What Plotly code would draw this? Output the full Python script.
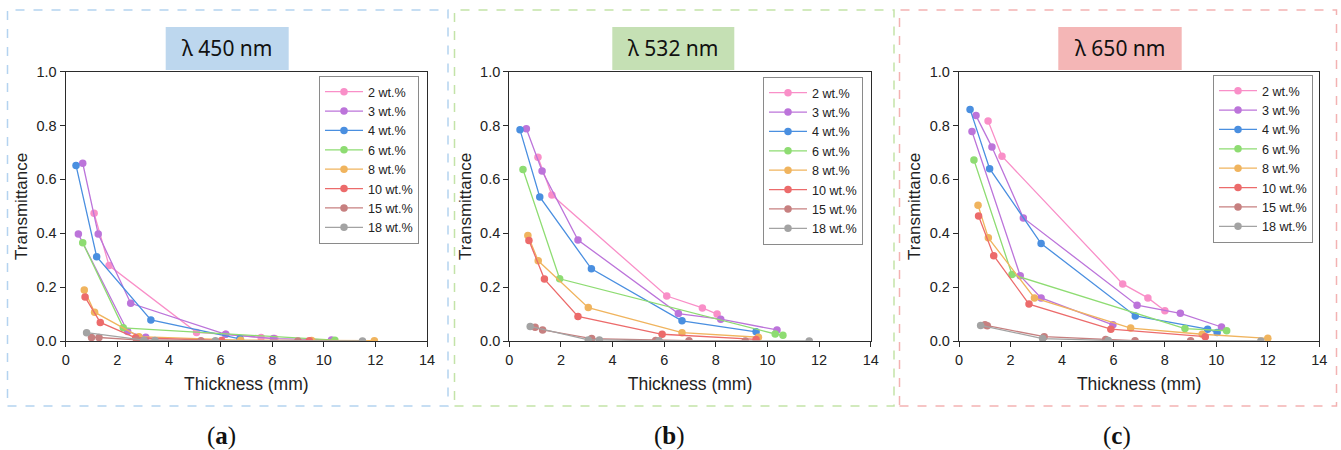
import plotly.graph_objects as go

W, H = 1341, 450

SERIES = ["2 wt.%", "3 wt.%", "4 wt.%", "6 wt.%", "8 wt.%", "10 wt.%", "15 wt.%", "18 wt.%"]
COLORS = ["#F98FC8", "#BC74DA", "#4A8FE0", "#8EDC72", "#F0B45E", "#EC6B6B", "#C78080", "#A3A3A3"]

X_TICKS = [0, 2, 4, 6, 8, 10, 12, 14]
Y_TICKS = [0.0, 0.2, 0.4, 0.6, 0.8, 1.0]

PANEL_TITLES = ["λ 450 nm", "λ 532 nm", "λ 650 nm"]
CAPTIONS = ["a", "b", "c"]

# ---- 450 nm (None separates two measurement chains of one series)
X_450 = [
    [1.1, 1.68, 5.07, 6.2, 7.57, 8.1],
    [0.66, 1.26, 2.52, 6.2, 8.05, 10.3, None, 0.49, 2.4, 3.1],
    [0.4, 1.2, 3.3, 6.75],
    [0.66, 2.23, 10.43],
    [0.72, 1.12, 2.84, 6.78, 9.53, 11.96],
    [0.75, 1.34, 2.71, 6.04, 9.44],
    [1.0, 1.29, 2.75, 5.24, 9.0],
    [0.81, 3.03, 3.46, 5.8, 11.5],
]
Y_450 = [
    [0.474, 0.28, 0.032, 0.025, 0.013, 0.009],
    [0.66, 0.397, 0.14, 0.025, 0.009, 0.004, None, 0.397, 0.035, 0.014],
    [0.652, 0.313, 0.078, 0.008],
    [0.365, 0.049, 0.003],
    [0.189, 0.107, 0.016, 0.003, 0.002, 0.001],
    [0.163, 0.069, 0.012, 0.002, 0.001],
    [0.013, 0.013, 0.004, 0.001, 0.0],
    [0.031, 0.003, 0.002, 0.001, 0.0],
]

# ---- 532 nm
X_532 = [
    [1.11, 1.65, 6.1, 7.48, 8.05],
    [0.66, 1.27, 2.66, 6.55, 8.19, 10.37],
    [0.415, 1.18, 3.18, 6.69, 9.56],
    [0.53, 1.95, 10.3, 10.6],
    [0.72, 1.12, 3.06, 6.69, 9.65],
    [0.76, 1.36, 2.66, 5.92, 9.56],
    [1.0, 1.29, 3.19, 5.67, 6.96, 9.14],
    [0.81, 3.06, 3.49, 5.8, 11.62],
]
Y_532 = [
    [0.682, 0.542, 0.167, 0.123, 0.1],
    [0.788, 0.631, 0.375, 0.102, 0.081, 0.041],
    [0.784, 0.535, 0.268, 0.075, 0.034],
    [0.637, 0.231, 0.026, 0.021],
    [0.392, 0.298, 0.124, 0.031, 0.014],
    [0.373, 0.23, 0.091, 0.025, 0.006],
    [0.051, 0.041, 0.009, 0.002, 0.001, 0.0],
    [0.054, 0.004, 0.004, 0.001, 0.0],
]

# ---- 650 nm
X_650 = [
    [1.13, 1.67, 6.36, 7.34, 8.0],
    [0.66, 1.28, 2.5, 6.92, 8.6, 10.2, None, 0.505, 2.38, 3.19, 5.98],
    [0.43, 1.19, 3.19, 6.85, 9.66, 10.03],
    [0.58, 2.06, 8.78, 10.4],
    [0.74, 1.14, 2.93, 6.67, 9.45, 12.0],
    [0.76, 1.35, 2.72, 5.9, 9.57],
    [1.01, 1.1, 3.31, 5.7, 6.84, 9.0],
    [0.84, 3.25, 5.8, 11.73],
]
Y_650 = [
    [0.817, 0.686, 0.212, 0.16, 0.112],
    [0.837, 0.72, 0.457, 0.133, 0.103, 0.052, None, 0.778, 0.242, 0.16, 0.06],
    [0.86, 0.64, 0.362, 0.093, 0.044, 0.032],
    [0.672, 0.247, 0.046, 0.038],
    [0.504, 0.383, 0.16, 0.048, 0.025, 0.01],
    [0.464, 0.317, 0.137, 0.044, 0.016],
    [0.06, 0.057, 0.016, 0.006, 0.001, 0.001],
    [0.058, 0.009, 0.002, 0.0],
]

PANEL_X = [X_450, X_532, X_650]
PANEL_Y = [Y_450, Y_532, Y_650]

# layout (pixel geometry)
PLOT_LEFT = [65.7, 509.3, 959.0]
PLOT_RIGHT = [427.0, 870.7, 1319.3]
PLOT_TOP, PLOT_BOTTOM = 71.7, 341.0
BORDERS = [(7.5, 448.0), (454.5, 894.0), (899.5, 1336.5)]
BORDER_TOP, BORDER_BOTTOM = 10.0, 406.0
BORDER_COLORS = ["#B4D3F0", "#C3E3A8", "#F3B2B2"]
TITLE_BOX = [(165.7, 288.7), (612.3, 734.3), (1058.3, 1181.7)]
TITLE_FILL = ["#BDD7EE", "#C5E0B4", "#F4B6B6"]
TITLE_TOP, TITLE_BOTTOM = 27.0, 70.0
CAPTION_X = [221, 669, 1117]
LEGEND_POS = [(319, 76), (763, 77), (1213, 75)]

px = lambda v: v / W
py = lambda v: 1 - v / H

fig = go.Figure()
shapes, annotations = [], []
for p in range(3):
    suffix = "" if p == 0 else str(p + 1)
    legname = "legend" if p == 0 else f"legend{p + 1}"
    for i, name in enumerate(SERIES):
        fig.add_trace(go.Scatter(
            x=PANEL_X[p][i], y=PANEL_Y[p][i], name=name,
            mode="lines+markers", connectgaps=False,
            line=dict(color=COLORS[i], width=1.3),
            marker=dict(color=COLORS[i], size=7.5),
            xaxis="x" + suffix, yaxis="y" + suffix, legend=legname,
        ))
    axis_common = dict(showline=True, mirror=True, linecolor="#2b2b2b", linewidth=1.3,
                       ticks="outside", ticklen=5, tickwidth=1.2, tickcolor="#2b2b2b",
                       showgrid=False, zeroline=False, automargin=False,
                       tickfont=dict(family="Liberation Sans", size=14.5, color="#222"))
    fig.update_layout(**{
        "xaxis" + suffix: dict(axis_common, domain=[px(PLOT_LEFT[p]), px(PLOT_RIGHT[p])],
                               range=[0, 14], tickvals=X_TICKS, anchor="y" + suffix,
                               title=dict(text="Thickness (mm)", standoff=11,
                                          font=dict(family="Liberation Sans", size=17.5, color="#222"))),
        "yaxis" + suffix: dict(axis_common, domain=[py(PLOT_BOTTOM), py(PLOT_TOP)],
                               range=[0, 1.0], tickvals=Y_TICKS, tickformat=".1f", anchor="x" + suffix,
                               title=dict(text="Transmittance", standoff=4,
                                          font=dict(family="Liberation Sans", size=17, color="#222"))),
        legname: dict(x=px(LEGEND_POS[p][0]), y=py(LEGEND_POS[p][1]), xanchor="left", yanchor="top",
                      bgcolor="rgba(255,255,255,1)", bordercolor="#8a8a8a", borderwidth=1,
                      font=dict(family="Liberation Sans", size=12.6, color="#222"),
                      itemwidth=38, tracegroupgap=0),
    })
    bx0, bx1 = BORDERS[p]
    shapes.append(dict(type="rect", xref="paper", yref="paper", x0=px(bx0), x1=px(bx1),
                       y0=py(BORDER_BOTTOM), y1=py(BORDER_TOP),
                       line=dict(color=BORDER_COLORS[p], width=1.5, dash="dash"), layer="below"))
    tx0, tx1 = TITLE_BOX[p]
    shapes.append(dict(type="rect", xref="paper", yref="paper", x0=px(tx0), x1=px(tx1),
                       y0=py(TITLE_BOTTOM), y1=py(TITLE_TOP),
                       fillcolor=TITLE_FILL[p], line=dict(width=0), layer="below"))
    annotations.append(dict(text=PANEL_TITLES[p], xref="paper", yref="paper",
                            x=px((tx0 + tx1) / 2), y=py((TITLE_TOP + TITLE_BOTTOM) / 2),
                            showarrow=False, xanchor="center", yanchor="middle",
                            font=dict(family="Noto Sans", size=21, color="#111")))
    annotations.append(dict(text=f"(<b>{CAPTIONS[p]}</b>)", xref="paper", yref="paper",
                            x=px(CAPTION_X[p]), y=py(436), showarrow=False,
                            xanchor="center", yanchor="middle",
                            font=dict(family="Liberation Serif", size=25, color="#111")))

fig.update_layout(width=W, height=H, margin=dict(l=0, r=0, t=0, b=0, autoexpand=False),
                  paper_bgcolor="white", plot_bgcolor="white",
                  shapes=shapes, annotations=annotations, showlegend=True)
fig.write_html("out.html", config={"displayModeBar": False},
               post_script="document.body.style.margin='0px';document.body.style.overflow='hidden';")
